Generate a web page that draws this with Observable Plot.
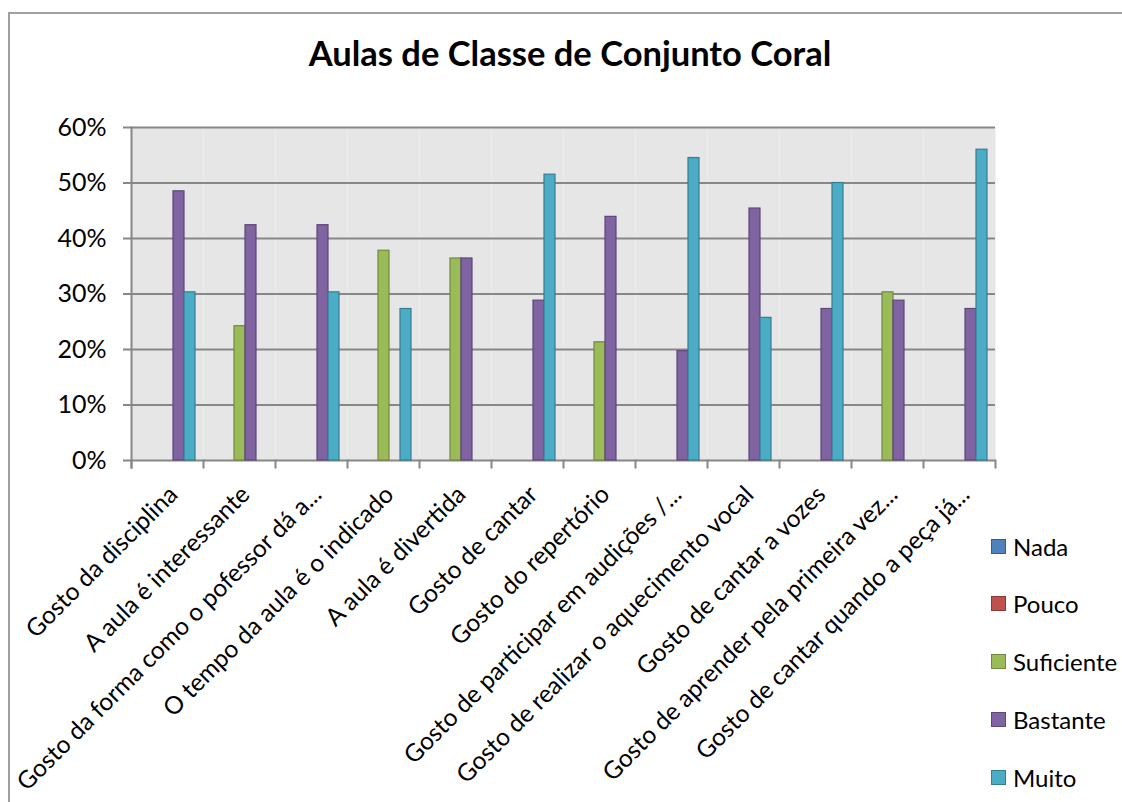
<!DOCTYPE html>
<html>
<head>
<meta charset="utf-8">
<script src="https://cdn.jsdelivr.net/npm/d3@7"></script>
<script src="https://cdn.jsdelivr.net/npm/@observablehq/plot@0.6"></script>
<style>
  html, body { margin: 0; padding: 0; background: #fff; overflow: hidden; }
  body { width: 1122px; height: 802px; position: relative; font-family: Lato, "Open Sans", sans-serif; }
  #border { position: absolute; left: 8px; top: 12px; width: 1300px; height: 1000px; border: 2px solid #a0a0a0; box-sizing: border-box; }
  #chart { position: absolute; left: 0; top: 0; }
  #title { position: absolute; left: 0; width: 1140px; top: 32px; text-align: center; font-weight: bold; font-size: 34.5px; color: #000; }
  #legend { position: absolute; left: 991px; top: 0; }
  .item { position: absolute; left: 0; white-space: nowrap; font-size: 24px; color: #000; display: flex; align-items: center; }
  .sw { width: 13px; height: 13px; border: 1px solid; margin-right: 7px; }
</style>
</head>
<body>
<div id="border"></div>
<div id="chart"></div>
<div id="title">Aulas de Classe de Conjunto Coral</div>
<div id="legend"></div>
<script>
const categories = [
  "Gosto da disciplina",
  "A aula é interessante",
  "Gosto da forma como o pofessor dá a...",
  "O tempo da aula é o indicado",
  "A aula é divertida",
  "Gosto de cantar",
  "Gosto do repertório",
  "Gosto de participar em audições /...",
  "Gosto de realizar o aquecimento vocal",
  "Gosto de cantar a vozes",
  "Gosto de aprender pela primeira vez...",
  "Gosto de cantar quando a peça já..."
];
const seriesNames = ["Nada", "Pouco", "Suficiente", "Bastante", "Muito"];
const nada       = [0, 0, 0, 0, 0, 0, 0, 0, 0, 0, 0, 0];
const pouco      = [0, 0, 0, 0, 0, 0, 0, 0, 0, 0, 0, 0];
const suficiente = [0, 24.2, 0, 37.8, 36.4, 0, 21.3, 0, 0, 0, 30.3, 0];
const bastante   = [48.5, 42.4, 42.4, 0, 36.4, 28.8, 43.9, 19.7, 45.4, 27.3, 28.8, 27.3];
const muito      = [30.3, 0, 30.3, 27.3, 0, 51.5, 0, 54.5, 25.7, 50.0, 0, 56.0];
const yTicks = [0, 0.1, 0.2, 0.3, 0.4, 0.5, 0.6];

const fills   = ["#4F81BD", "#C0504D", "#9BBB59", "#8064A2", "#4BACC6"];
const strokes = ["#385D8A", "#8C3836", "#71893F", "#5C4776", "#357D91"];

const seriesValues = [nada, pouco, suficiente, bastante, muito];
const rows = [];
seriesNames.forEach((s, si) => {
  categories.forEach((c, ci) => {
    rows.push({cat: c, serie: s, value: seriesValues[si][ci] / 100});
  });
});
const shown = rows.filter(d => d.value > 0);

const W = 1122, H = 802;
const mL = 128, mR = 125, mT = 127, mB = 342;
const plotH = H - mT - mB;

const chart = Plot.plot({
  width: W, height: H,
  marginLeft: mL, marginRight: mR, marginTop: mT, marginBottom: mB,
  style: {fontFamily: "Lato, 'Open Sans', sans-serif", color: "#000", background: "transparent", overflow: "visible"},
  fx: {domain: categories, padding: 0, label: null},
  x: {domain: seriesNames, paddingInner: 0, paddingOuter: 0.65, axis: null},
  y: {domain: [0, 0.6], ticks: yTicks, label: null},
  color: {domain: seriesNames, range: fills},
  marks: [
    Plot.frame({fill: "#e6e6e6"}),
    Plot.gridY(yTicks, {stroke: "#878787", strokeOpacity: 1, strokeWidth: 2}),
    Plot.frame({anchor: "left", facetAnchor: "left", stroke: "#878787", strokeWidth: 2, insetBottom: -7}),
    Plot.frame({anchor: "left", stroke: "#878787", strokeWidth: 2, insetTop: plotH, insetBottom: -7}),
    Plot.frame({anchor: "right", facetAnchor: "right", stroke: "#878787", strokeWidth: 2, insetTop: plotH, insetBottom: -7}),
    Plot.axisY(yTicks, {
      tickSize: 8, tickPadding: 17, tickFormat: d3.format(".0%"),
      fontSize: 25, stroke: "#878787", strokeWidth: 2, label: null
    }),
    Plot.axisFx({
      anchor: "bottom", tickRotate: -45, tickSize: 0, tickPadding: 30, dx: 6,
      fontSize: 24.5, label: null, textOverflow: null, lineWidth: Infinity
    }),
    Plot.barY(shown, {
      fx: "cat", x: "serie", y: "value", fill: "serie",
      stroke: d => strokes[seriesNames.indexOf(d.serie)], strokeWidth: 1.2
    })
  ]
});
document.getElementById("chart").appendChild(chart);

// legend
const legend = document.getElementById("legend");
const legendY = [546, 603, 661, 719, 777];
seriesNames.forEach((s, i) => {
  const it = document.createElement("div");
  it.className = "item";
  it.style.top = (legendY[i] - 15) + "px";
  it.style.height = "30px";
  const sw = document.createElement("span");
  sw.className = "sw";
  sw.style.background = fills[i];
  sw.style.borderColor = strokes[i];
  const tx = document.createElement("span");
  tx.textContent = s;
  it.appendChild(sw); it.appendChild(tx);
  legend.appendChild(it);
});
</script>
</body>
</html>
